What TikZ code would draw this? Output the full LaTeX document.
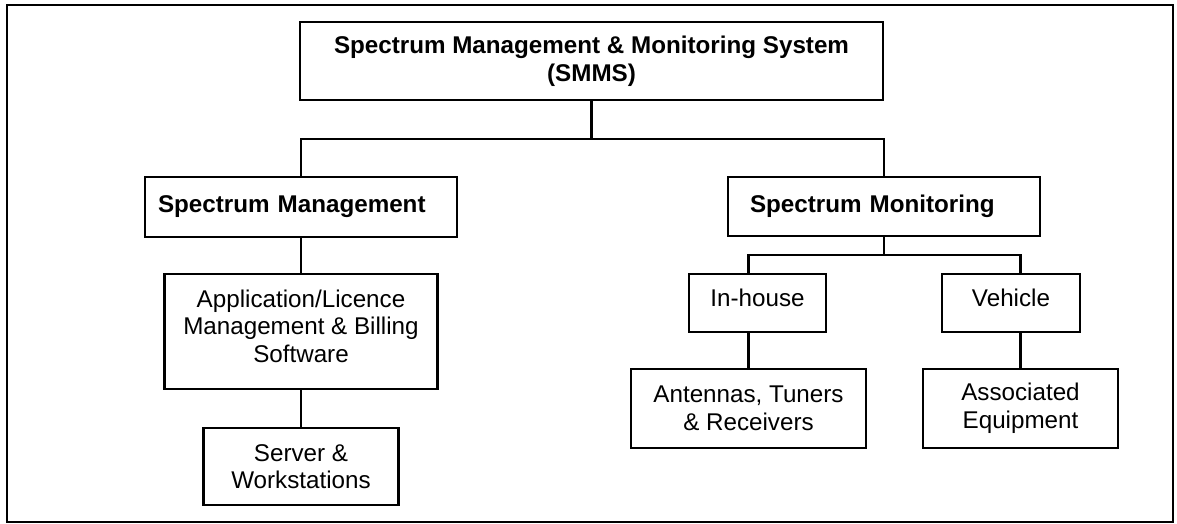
\documentclass[tikz,border=0pt]{standalone}
\usepackage{fontspec}
\setmainfont{Liberation Sans}
\begin{document}
\begin{tikzpicture}[x=1pt, y=-1pt,
  box/.style={draw, line width=2.2pt, inner sep=0pt, align=center,
    font=\fontsize{24.2}{27.6}\selectfont},
  head/.style={box, font=\fontsize{24.2}{27.6}\selectfont\bfseries},
  raised/.style={text height=17.5pt, text depth=11.5pt},
  link/.style={line width=2.2pt, line join=miter}]
\useasboundingbox (0,0) rectangle (1177,524);
% outer frame
\draw[line width=2.2pt] (7,5) rectangle (1173,522);

% top level
\node[head, minimum width=583pt, minimum height=78pt] (smms) at (591.5,61)
  {Spectrum Management \& Monitoring System\\(SMMS)};

% second level
\node[head, minimum width=312pt, minimum height=60pt, text width=286pt,
  align=left, inner xsep=13pt] (mgmt) at (301,207) {Spectrum Management};
\node[head, minimum width=312pt, minimum height=59pt, text width=268pt,
  align=left, inner xsep=22pt] (mon) at (884,206.5) {Spectrum Monitoring};

% management branch
\node[box, minimum width=273pt, minimum height=115pt] (app) at (301,331.5)
  {Application/Licence\\Management \& Billing\\Software\rule[-11pt]{0pt}{11pt}};
\node[box, minimum width=195pt, minimum height=77pt] (srv) at (301,466.5)
  {Server \&\\Workstations};

% monitoring branch
\node[box, raised, minimum width=137pt, minimum height=58pt] (inh) at (757.5,303) {In-house};
\node[box, raised, minimum width=138pt, minimum height=58pt] (veh) at (1011,303) {Vehicle};
\node[box, minimum width=235pt, minimum height=79pt] (ant) at (748.5,408.5)
  {Antennas, Tuners\\\& Receivers};
\node[box, minimum width=195pt, minimum height=79pt] (ass) at (1020.5,408.5)
  {Associated\\Equipment};

% bus levels
\coordinate (tbus) at (0,139);
\coordinate (mbus) at (0,255);

% connectors
\draw[link] (smms.south) -- (smms.south |- tbus);
\draw[link] (mgmt.north) -- (mgmt.north |- tbus) -- (mon.north |- tbus) -- (mon.north);
\draw[link] (mgmt.south) -- (app.north);
\draw[link] (app.south) -- (srv.north);
\draw[link] (mon.south) -- (mon.south |- mbus);
\draw[link] (ant.north |- inh.north) -- (ant.north |- mbus) -- (ass.north |- mbus) -- (ass.north |- veh.north);
\draw[link] (ant.north |- inh.south) -- (ant.north);
\draw[link] (ass.north |- veh.south) -- (ass.north);
\end{tikzpicture}
\end{document}
